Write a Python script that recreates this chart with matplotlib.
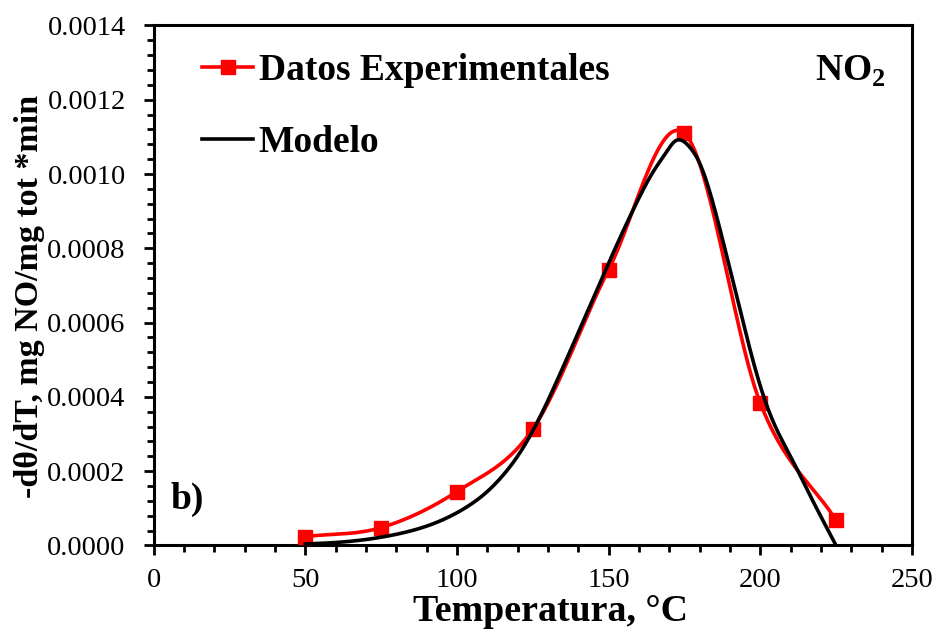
import numpy as np
import matplotlib
matplotlib.use("Agg")
import matplotlib.pyplot as plt
from matplotlib.lines import Line2D
from matplotlib.ticker import MultipleLocator, FormatStrFormatter

plt.rcParams['font.family'] = ['Liberation Serif', 'DejaVu Serif']
plt.rcParams['mathtext.fontset'] = 'custom'
plt.rcParams['mathtext.rm'] = 'Liberation Serif'
plt.rcParams['mathtext.bf'] = 'Liberation Serif:bold'

# Experimental desorption rate
temp_exp = [50, 75, 100, 125, 150, 175, 200, 225]
rate_exp = [0.000024, 0.000048, 0.000145, 0.000313, 0.000742, 0.001110, 0.000384, 0.000068]

# Kinetic model
temp_mod = [50, 60, 70, 80, 90, 100, 105, 110, 115, 120, 125, 130, 135, 140, 145,
            150, 155, 160, 165, 169, 172, 174, 177, 180, 185, 190, 195, 200, 205,
            210, 215, 220, 225]
rate_mod = [0.000004, 0.000008, 0.000016, 0.000030, 0.000052, 0.000088, 0.000113,
            0.000145, 0.000187, 0.000240, 0.000308, 0.000390, 0.000480, 0.000573,
            0.000667, 0.000760, 0.000850, 0.000935, 0.001010, 0.001058, 0.001089,
            0.001091, 0.001070, 0.001030, 0.000905, 0.000745, 0.000580, 0.000430,
            0.000320, 0.000240, 0.000158, 0.000078, 0.0]


def catmull_rom(x, y, n=30):
    """Parametric Catmull-Rom curve through the points (spreadsheet-style smoothed line)."""
    x = np.asarray(x, float)
    y = np.asarray(y, float)
    px = np.concatenate([[2 * x[0] - x[1]], x, [2 * x[-1] - x[-2]]])
    py = np.concatenate([[2 * y[0] - y[1]], y, [2 * y[-1] - y[-2]]])
    xs, ys = [], []
    t = np.linspace(0, 1, n, endpoint=False)
    for i in range(1, len(px) - 2):
        for arr, (a, b, c, d) in ((xs, px[i - 1:i + 3]), (ys, py[i - 1:i + 3])):
            arr.extend(0.5 * ((2 * b) + (-a + c) * t + (2 * a - 5 * b + 4 * c - d) * t ** 2
                              + (-a + 3 * b - 3 * c + d) * t ** 3))
    xs.append(x[-1])
    ys.append(y[-1])
    return np.array(xs), np.array(ys)


def natural_spline(x, y, n=800):
    """Natural cubic spline y(x) evaluated on a fine grid."""
    x = np.asarray(x, float)
    y = np.asarray(y, float)
    m = len(x)
    h = np.diff(x)
    A = np.zeros((m, m))
    r = np.zeros(m)
    A[0, 0] = A[-1, -1] = 1.0
    for i in range(1, m - 1):
        A[i, i - 1] = h[i - 1]
        A[i, i] = 2 * (h[i - 1] + h[i])
        A[i, i + 1] = h[i]
        r[i] = 6 * ((y[i + 1] - y[i]) / h[i] - (y[i] - y[i - 1]) / h[i - 1])
    M = np.linalg.solve(A, r)
    xs = np.linspace(x[0], x[-1], n)
    k = np.clip(np.searchsorted(x, xs) - 1, 0, m - 2)
    a = x[k + 1] - xs
    b = xs - x[k]
    hk = h[k]
    ys = (M[k] * a ** 3 / (6 * hk) + M[k + 1] * b ** 3 / (6 * hk)
          + (y[k] / hk - M[k] * hk / 6) * a + (y[k + 1] / hk - M[k + 1] * hk / 6) * b)
    return xs, ys


fig = plt.figure(figsize=(9.43, 6.32), dpi=100)
ax = fig.add_axes([0.1628, 0.1369, 0.8042, 0.8228])

sx, sy = catmull_rom(temp_exp, rate_exp)
ax.plot(sx, sy, color='#ff0000', lw=2.6, zorder=3)
ax.plot(temp_exp, rate_exp, ls='none', marker='s', ms=10, color='#ff0000', zorder=4)

mx, my = natural_spline(temp_mod, rate_mod)
ax.plot(mx, my, color='black', lw=2.6, zorder=5)

ax.set_xlim(0, 250)
ax.set_ylim(0, 0.0014)
ax.xaxis.set_major_locator(MultipleLocator(50))
ax.xaxis.set_minor_locator(MultipleLocator(10))
ax.yaxis.set_major_locator(MultipleLocator(0.0002))
ax.yaxis.set_minor_locator(MultipleLocator(0.00004))
ax.yaxis.set_major_formatter(FormatStrFormatter('%.4f'))

for s in ax.spines.values():
    s.set_linewidth(2.2)
ax.tick_params(which='major', direction='out', length=7, width=2, labelsize=20.5)
ax.tick_params(which='minor', direction='out', length=5, width=2)
ax.tick_params(axis='x', which='major', pad=9)
ax.tick_params(axis='y', which='major', pad=13)

ax.set_xlabel('Temperatura, °C', fontsize=27.3, fontweight='bold')
ax.xaxis.set_label_coords(0.524, -0.093)
ax.set_ylabel('-dθ/dT, mg NO/mg tot *min', fontsize=24.5, fontweight='bold')
ax.yaxis.set_label_coords(-0.143, 0.478)

handles = [
    Line2D([], [], color='#ff0000', lw=2.6, marker='s', ms=10),
    Line2D([], [], color='black', lw=2.6),
]
ax.legend(handles, ['Datos Experimentales', 'Modelo'], loc='upper left',
          bbox_to_anchor=(0.0445, 0.975), frameon=False,
          prop={'size': 27, 'weight': 'bold'}, handlelength=1.35,
          handletextpad=0.15, labelspacing=0.98, borderaxespad=0)

ax.text(0.965, 0.912, r'NO$_\mathbf{2}$', transform=ax.transAxes, ha='right', va='center',
        fontsize=27, fontweight='bold')
ax.text(0.022, 0.088, 'b)', transform=ax.transAxes, ha='left', va='center',
        fontsize=27, fontweight='bold')

fig.savefig('out.png', dpi=100)
